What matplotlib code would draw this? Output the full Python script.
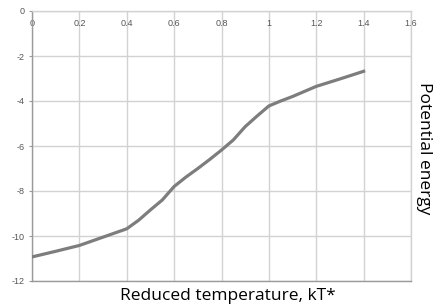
#!/usr/bin/env python3
"""
Potential energy vs reduced temperature
"""

import matplotlib
matplotlib.use('Agg')
import matplotlib.pyplot as plt

plt.rcParams['axes.unicode_minus'] = False

# values
temperature = [0.0, 0.1, 0.2, 0.3, 0.4, 0.45, 0.5, 0.55, 0.6, 0.65, 0.7, 0.75,
               0.8, 0.85, 0.9, 0.95, 1.0, 1.05, 1.1, 1.2, 1.3, 1.4]
energy = [-10.93, -10.68, -10.42, -10.05, -9.68, -9.30, -8.84, -8.40, -7.80,
          -7.38, -7.00, -6.60, -6.18, -5.73, -5.14, -4.67, -4.22, -4.00, -3.80,
          -3.35, -3.02, -2.68]

x_ticks = [0, 0.2, 0.4, 0.6, 0.8, 1.0, 1.2, 1.4, 1.6]
x_tick_labels = ['0', '0.2', '0.4', '0.6', '0.8', '1', '1.2', '1.4', '1.6']
y_ticks = [0, -2, -4, -6, -8, -10, -12]

fig = plt.figure(figsize=(4.36, 3.07), dpi=100)
ax = fig.add_axes([32 / 436, 26 / 307, 379 / 436, 270 / 307])

ax.plot(temperature, energy, color='#7d7d7d', lw=2.3, zorder=3)

ax.set_xlim(0, 1.6)
ax.set_ylim(-12, 0)
ax.set_xticks(x_ticks)
ax.set_xticklabels(x_tick_labels)
ax.set_yticks(y_ticks)

ax.grid(True, color='#d2d2d2', lw=1.0)
ax.set_axisbelow(True)

for side in ['left', 'bottom']:
    ax.spines[side].set_color('#9a9a9a')
    ax.spines[side].set_linewidth(1.0)
for side in ['right', 'top']:
    ax.spines[side].set_color('#d2d2d2')
    ax.spines[side].set_linewidth(1.0)

# x tick labels sit inside the plot, just under the top edge
ax.tick_params(axis='x', bottom=False, top=False, labelbottom=False, labeltop=True,
               pad=-16, labelsize=6.5, labelcolor='#555555')
ax.tick_params(axis='y', length=2, color='#9a9a9a', pad=3, labelsize=6.5,
               labelcolor='#555555')
for lab in ax.get_xticklabels() + ax.get_yticklabels():
    lab.set_family('Liberation Sans')

fig.text(228 / 436, 1 - 296 / 307, 'Reduced temperature, kT*', fontsize=12.5,
         family='Open Sans', ha='center', va='center')
fig.text(424 / 436, 1 - 148 / 307, 'Potential energy', fontsize=12.5,
         family='Open Sans', rotation=270, ha='center', va='center')

fig.savefig('out.png', dpi=100)
